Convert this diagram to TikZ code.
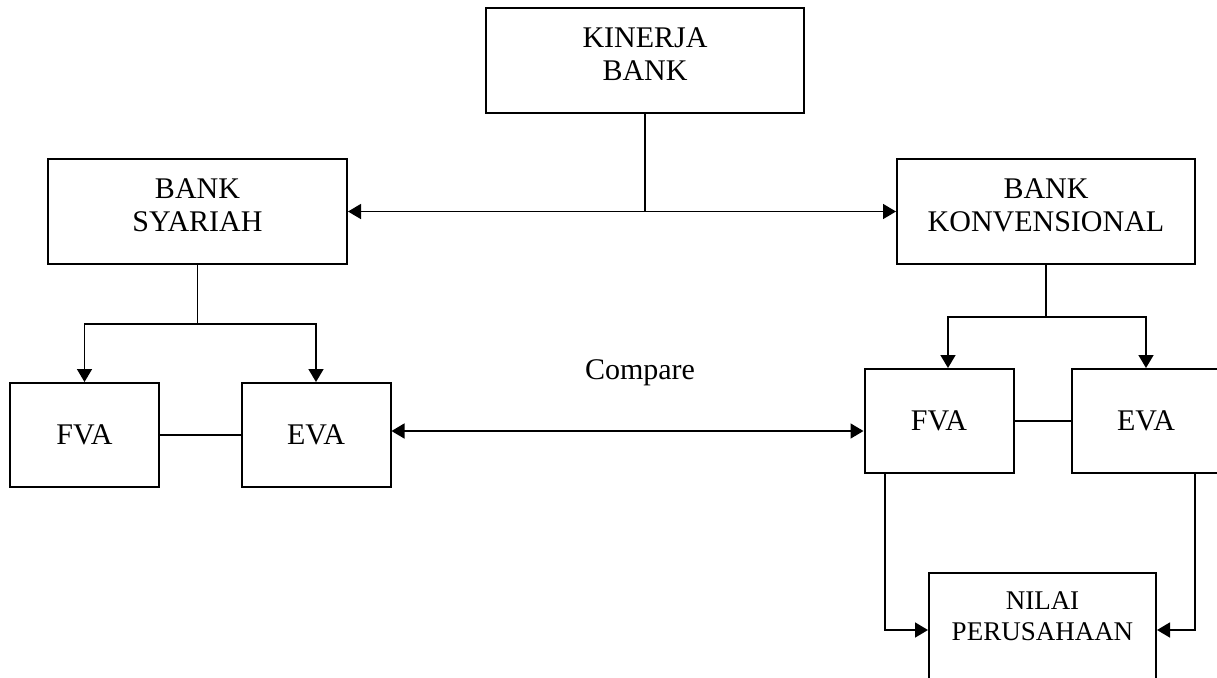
\documentclass[tikz,border=0pt]{standalone}
\usepackage{fontspec}
\setmainfont{Liberation Serif}
\usetikzlibrary{arrows.meta, positioning}

\tikzset{
  box/.style={draw, line width=1pt, rectangle, minimum width=74.5pt, minimum height=52pt, inner sep=0pt},
  tag/.style={align=center, font=\fontsize{15}{16.5}\selectfont},
  link/.style={line width=0.8pt},
  arr/.style={link, -{Triangle[length=6.5pt,width=7.5pt]}},
  twoway/.style={link, {Triangle[length=6.5pt,width=7.5pt]}-{Triangle[length=6.5pt,width=7.5pt]}},
}

\begin{document}
\begin{tikzpicture}[x=0.5pt, y=-0.5pt]
  \useasboundingbox (0,0) rectangle (1217,677);
  \clip (0,0) rectangle (1217,677);
  % top box
  \node[box, minimum width=159pt, minimum height=52.5pt] (kinerja) at (645,60.5) {};
  \node[tag] (kinerja text) at ([yshift=3pt]kinerja.center) {KINERJA\\BANK};
  % the two banks
  \node[box, minimum width=149.5pt, minimum height=52.5pt] (syariah) at (197.5,211.5) {};
  \node[tag] (syariah text) at ([yshift=3pt]syariah.center) {BANK\\SYARIAH};
  \node[box, minimum width=149pt, minimum height=52.5pt] (konv) at (1046,211.5) {};
  \node[tag] (konv text) at ([yshift=3pt]konv.center) {BANK\\KONVENSIONAL};
  % value added boxes
  \node[box, tag] (fva s) at (84.5,435) {FVA};
  \node[box, tag] (eva s) at (316,435) {EVA};
  \node[box, tag] (fva k) at (939,421) {FVA};
  \node[box, tag] (eva k) at (1146,421) {EVA};
  \node[box, minimum width=113.5pt, minimum height=57pt] (nilai) at (1042.5,630) {};
  \node[tag, font=\fontsize{13.5}{15.5}\selectfont] (nilai text) at (1042.5,616) {NILAI\\PERUSAHAAN};
  \node[tag, anchor=base] (compare) at (640,379) {Compare};
  % connectors
  \coordinate (split) at (kinerja.south |- syariah.east);
  \draw[link, line width=0.6pt] (kinerja.south) -- (split);
  \draw[arr] (split) -- (syariah.east);
  \draw[arr] (split) -- (konv.west);
  \draw[link] (syariah.south) -- ++(0,59) coordinate (s fork);
  \draw[arr] (s fork) -| (fva s.north);
  \draw[arr] (s fork) -| (eva s.north);
  \draw[link] (konv.south) -- ++(0,52) coordinate (k fork);
  \draw[arr] (k fork) -| ([xshift=4.5pt]fva k.north);
  \draw[arr] (k fork) -| (eva k.north);
  \draw[link] (fva s) -- (eva s);
  \draw[link] (fva k) -- (eva k);
  \coordinate (cmp) at (640,431);
  \draw[twoway] (eva s.east |- cmp) -- (fva k.west |- cmp);
  \draw[arr] ([xshift=-27pt]fva k.south) |- (nilai.west);
  \draw[arr] ([xshift=24.5pt]eva k.south) |- (nilai.east);
\end{tikzpicture}
\end{document}
